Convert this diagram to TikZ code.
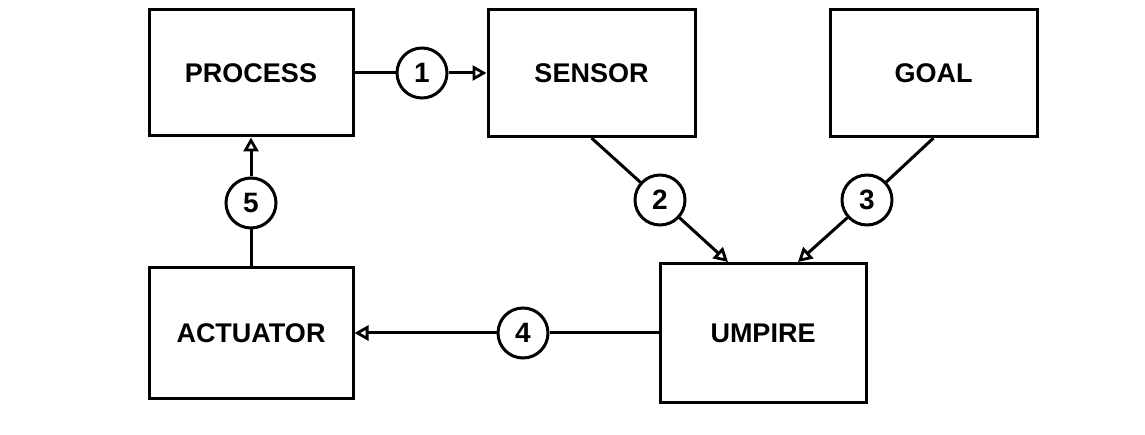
\documentclass[tikz,border=0pt]{standalone}
\usepackage{fontspec}
\setmainfont{Liberation Sans}
\usetikzlibrary{arrows.meta}
\tikzset{
  blk/.style={draw, line width=3pt, minimum width=#1, inner sep=0pt, font=\fontsize{27}{30}\selectfont\bfseries},
  num/.style={draw, circle, line width=3pt, minimum size=50pt, inner sep=0pt, font=\fontsize{28}{30}\selectfont\bfseries},
  conn/.style={line width=3pt},
  arr/.style={conn, -{Triangle[open, length=14pt, width=15pt, line width=2.8pt]}}
}
\begin{document}
\begin{tikzpicture}[x=1pt, y=-1pt]
\useasboundingbox (0,0) rectangle (1145,435);
\node[blk=204pt, minimum height=126pt] (process) at (251,73) {PROCESS};
\node[blk=207pt, minimum height=127pt] (sensor) at (591.5,73) {SENSOR};
\node[blk=207pt, minimum height=127pt] (goal) at (933.5,73) {GOAL};
\node[blk=206pt, minimum height=139pt] (umpire) at (763,333) {UMPIRE};
\node[blk=204pt, minimum height=131pt] (actuator) at (251,333) {ACTUATOR};

\node[num] (c1) at (422,73) {1};
\node[num] (c2) at (660,200) {2};
\node[num] (c3) at (867,200) {3};
\node[num] (c4) at (523,333) {4};
\node[num] (c5) at (251,203) {5};

\coordinate (t2) at ([xshift=-35pt]umpire.north);
\coordinate (t3) at ([xshift=35pt]umpire.north);

\draw[conn] (process) -- (c1);
\draw[arr] (c1) -- (sensor);
\draw[conn] (sensor.south) -- (c2);
\draw[arr] (c2) -- (t2);
\draw[conn] (goal.south) -- (c3);
\draw[arr] (c3) -- (t3);
\draw[conn] (umpire) -- (c4);
\draw[arr] (c4) -- (actuator);
\draw[conn] (actuator) -- (c5);
\draw[arr] (c5) -- (process);
\end{tikzpicture}
\end{document}
